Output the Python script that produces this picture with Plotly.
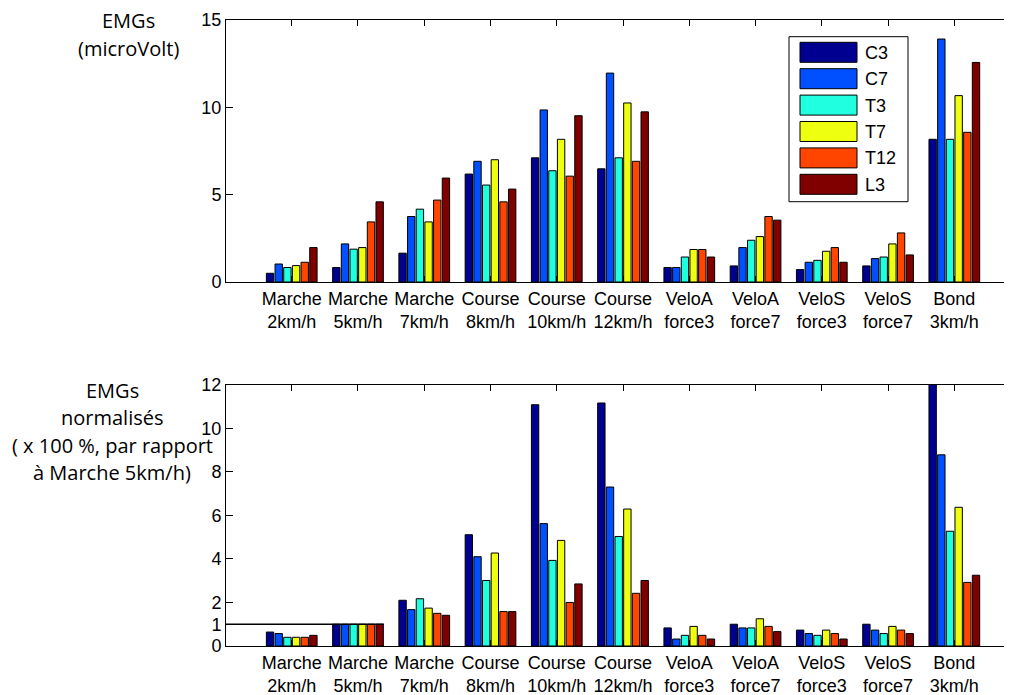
import plotly.graph_objects as go

categories = ["Marche<br>2km/h", "Marche<br>5km/h", "Marche<br>7km/h", "Course<br>8km/h",
              "Course<br>10km/h", "Course<br>12km/h", "VeloA<br>force3", "VeloA<br>force7",
              "VeloS<br>force3", "VeloS<br>force7", "Bond<br>3km/h"]
series_names = ["C3", "C7", "T3", "T7", "T12", "L3"]
series_colors = ["#000090", "#0050FF", "#20FFDF", "#EEFF10", "#FF4500", "#800000"]

# Top chart: EMGs (microVolt)
emg_C3 = [0.50, 0.83, 1.65, 6.18, 7.11, 6.48, 0.83, 0.92, 0.71, 0.92, 8.17]
emg_C7 = [1.03, 2.18, 3.75, 6.91, 9.85, 11.96, 0.83, 1.97, 1.13, 1.34, 13.91]
emg_T3 = [0.83, 1.88, 4.17, 5.55, 6.37, 7.11, 1.43, 2.39, 1.24, 1.43, 8.17]
emg_T7 = [0.94, 1.97, 3.44, 7.00, 8.17, 10.25, 1.86, 2.60, 1.76, 2.18, 10.67]
emg_T12 = [1.13, 3.44, 4.69, 4.59, 6.06, 6.91, 1.86, 3.75, 1.97, 2.81, 8.57]
emg_L3 = [1.97, 4.59, 5.95, 5.32, 9.52, 9.74, 1.43, 3.54, 1.13, 1.55, 12.57]

# Bottom chart: normalised EMGs (relative to Marche 5km/h)
norm_C3 = [0.64, 1.0, 2.10, 5.11, 11.08, 11.16, 0.83, 1.00, 0.73, 1.00, 12.4]
norm_C7 = [0.57, 1.0, 1.67, 4.10, 5.62, 7.30, 0.32, 0.83, 0.57, 0.73, 8.78]
norm_T3 = [0.40, 1.0, 2.17, 3.01, 3.93, 5.03, 0.49, 0.83, 0.49, 0.57, 5.27]
norm_T7 = [0.40, 1.0, 1.74, 4.27, 4.85, 6.29, 0.90, 1.25, 0.73, 0.90, 6.37]
norm_T12 = [0.40, 1.0, 1.50, 1.58, 2.00, 2.42, 0.49, 0.90, 0.57, 0.73, 2.92]
norm_L3 = [0.49, 1.0, 1.41, 1.58, 2.85, 3.01, 0.32, 0.66, 0.32, 0.57, 3.25]

top_ticks = [0, 5, 10, 15]
bottom_ticks = [0, 1, 2, 4, 6, 8, 10, 12]
ref_line_x = [-1.0, 1.39]
ref_line_y = [1, 1]

emg_series = [emg_C3, emg_C7, emg_T3, emg_T7, emg_T12, emg_L3]
norm_series = [norm_C3, norm_C7, norm_T3, norm_T7, norm_T12, norm_L3]

# page body has an 8px margin: figure pixel = screen pixel - 8
OFF = 8
W, H = 1012 - OFF, 695 - OFF
ML, MR, MT, MB = 226 - OFF, 0, 20 - OFF, 49
PW, PH = W - ML - MR, H - MT - MB


def px_x(p):
    return (p - OFF - ML) / PW


def px_y(p):
    return (H - MB - (p - OFF)) / PH


fig = go.Figure()
for name, col, vals in zip(series_names, series_colors, emg_series):
    fig.add_trace(go.Bar(x=categories, y=vals, name=name, marker_color=col,
                         marker_line=dict(color="black", width=1),
                         xaxis="x", yaxis="y", showlegend=False))
for name, col, vals in zip(series_names, series_colors, norm_series):
    fig.add_trace(go.Bar(x=categories, y=vals, name=name, marker_color=col,
                         marker_line=dict(color="black", width=1),
                         xaxis="x2", yaxis="y2", showlegend=False))

fig.add_shape(type="line", xref="x2", yref="y2", x0=ref_line_x[0], x1=ref_line_x[1],
              y0=ref_line_y[0], y1=ref_line_y[1], line=dict(color="black", width=1.3))

xr = [-0.992, -0.992 + PW / 66.26]
tickfont = dict(family="Liberation Sans, Arial, sans-serif", size=18, color="black")
xcommon = dict(type="category", range=xr, showline=True, linecolor="black", linewidth=1,
               mirror="ticks", ticks="inside", ticklen=6, tickcolor="black",
               showgrid=False, tickfont=tickfont, zeroline=False, automargin=False)
ycommon = dict(showline=True, linecolor="black", linewidth=1, ticks="inside", ticklen=7,
               tickcolor="black", showgrid=False, zeroline=False, tickfont=tickfont,
               automargin=False)

top_bottom = px_y(282)
bot_top = px_y(384.7)

fig.update_layout(
    width=W, height=H,
    margin=dict(l=ML, r=MR, t=MT, b=MB),
    plot_bgcolor="white", paper_bgcolor="white",
    barmode="group", bargap=0.215, bargroupgap=0.15,
    xaxis=dict(**xcommon, anchor="y"),
    yaxis=dict(**ycommon, domain=[top_bottom, 1], range=[0, 15], tickvals=top_ticks, anchor="x"),
    xaxis2=dict(**xcommon, anchor="y2"),
    yaxis2=dict(**ycommon, domain=[0, bot_top], range=[0, 12], tickvals=bottom_ticks, anchor="x2"),
)

# Manual legend (large swatches like the original)
fig.add_shape(type="rect", xref="paper", yref="paper", x0=px_x(789), x1=px_x(908),
              y0=px_y(201.7), y1=px_y(36.7), line=dict(color="black", width=1),
              fillcolor="white", layer="above")
for i, (name, col) in enumerate(zip(series_names, series_colors)):
    top = 42.3 + i * 26.4
    fig.add_shape(type="rect", xref="paper", yref="paper", x0=px_x(800), x1=px_x(857),
                  y0=px_y(top + 20), y1=px_y(top), fillcolor=col,
                  line=dict(color="black", width=1), layer="above")
    fig.add_annotation(xref="paper", yref="paper", x=px_x(863), y=px_y(top + 10.5),
                       text=name, showarrow=False, xanchor="left", yanchor="middle",
                       font=dict(family="Liberation Sans, Arial, sans-serif", size=18, color="black"))

titlefont = dict(family="Open Sans, sans-serif", size=20, color="black")
for txt, cy in [("EMGs", 21), ("(microVolt)", 48)]:
    fig.add_annotation(xref="paper", yref="paper", x=px_x(128), y=px_y(cy), text=txt,
                       showarrow=False, xanchor="center", yanchor="middle", font=titlefont)
for txt, cy in [("EMGs", 390), ("normalisés", 418), ("( x 100 %, par rapport", 445),
                ("à Marche 5km/h)", 472)]:
    fig.add_annotation(xref="paper", yref="paper", x=px_x(112), y=px_y(cy), text=txt,
                       showarrow=False, xanchor="center", yanchor="middle", font=titlefont)

fig.write_html("out.html")
